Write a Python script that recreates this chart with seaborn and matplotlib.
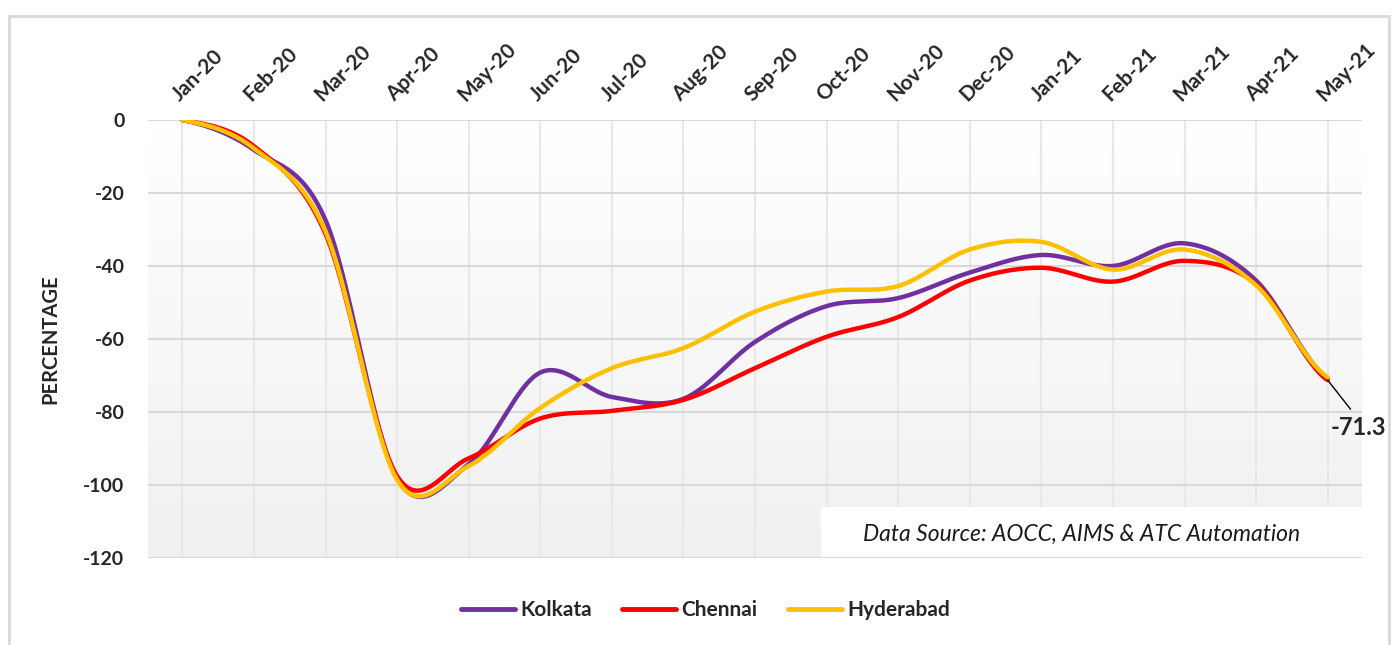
import numpy as np
import pandas as pd
import matplotlib
matplotlib.use('Agg')
import matplotlib.pyplot as plt
import matplotlib.transforms as mtransforms
import seaborn as sns
from matplotlib.colors import LinearSegmentedColormap
from matplotlib.lines import Line2D
from matplotlib.patches import Rectangle

# monthly change in traffic (%)
months = ['Jan-20', 'Feb-20', 'Mar-20', 'Apr-20', 'May-20', 'Jun-20', 'Jul-20', 'Aug-20',
          'Sep-20', 'Oct-20', 'Nov-20', 'Dec-20', 'Jan-21', 'Feb-21', 'Mar-21', 'Apr-21', 'May-21']
kolkata = [0, -8.2, -27.5, -98.3, -94.3, -69.2, -75.9, -76.4, -60.8, -51.0, -48.8, -41.8,
           -37.0, -40.0, -33.8, -44.0, -70.8]
chennai = [0, -7.2, -31.3, -97.6, -92.7, -81.8, -79.7, -76.7, -68.0, -59.4, -54.0, -44.0,
           -40.5, -44.3, -38.6, -45.0, -71.3]
hyderabad = [0, -7.8, -30.6, -98.6, -94.8, -78.9, -68.0, -62.5, -52.5, -47.0, -45.5, -35.5,
             -33.4, -41.0, -35.5, -45.3, -70.5]
cities = ['Kolkata', 'Chennai', 'Hyderabad']
colors = {'Kolkata': '#7030A0', 'Chennai': '#FF0000', 'Hyderabad': '#FFC000'}


def smooth(vals, n=40):
    # catmull-rom, like excel's "smoothed line"
    p = np.r_[vals[0], vals, vals[-1]]
    xs, ys = [], []
    t = np.linspace(0, 1, n, endpoint=False)
    for i in range(len(vals) - 1):
        p0, p1, p2, p3 = p[i], p[i + 1], p[i + 2], p[i + 3]
        m1, m2 = (p2 - p0) / 2, (p3 - p1) / 2
        h00 = 2 * t**3 - 3 * t**2 + 1
        h10 = t**3 - 2 * t**2 + t
        h01 = -2 * t**3 + 3 * t**2
        h11 = t**3 - t**2
        xs.append(i + t)
        ys.append(h00 * p1 + h10 * m1 + h01 * p2 + h11 * m2)
    xs.append([len(vals) - 1])
    ys.append([vals[-1]])
    return np.concatenate(xs), np.concatenate(ys)


rows = []
for name, vals in zip(cities, [kolkata, chennai, hyderabad]):
    sx, sy = smooth(vals)
    rows.append(pd.DataFrame({'x': sx, 'value': sy, 'city': name}))
df = pd.concat(rows, ignore_index=True)

sns.set_style('white')
plt.rcParams['font.family'] = ['Lato', 'DejaVu Sans']
plt.rcParams['axes.unicode_minus'] = False

fig = plt.figure(figsize=(13.97, 6.45), dpi=100)
ax = fig.add_axes([0.106, 0.135, 0.869, 0.679])

xmin, xmax = -0.48, 16.48
# gradient background of plot area: white at top, light grey at bottom
cmap = LinearSegmentedColormap.from_list('bg', ['#ffffff', '#f0f0f0'])
ax.imshow(np.linspace(1, 0, 256).reshape(-1, 1), cmap=cmap, aspect='auto',
          extent=[xmin, xmax, -120, 0], origin='lower', zorder=0)

sns.lineplot(data=df, x='x', y='value', hue='city', hue_order=cities, palette=colors,
             sort=False, estimator=None, linewidth=3.2, legend=False, ax=ax, zorder=3)

ax.set_xlim(xmin, xmax)
ax.set_ylim(-120, 0)
ax.set_yticks(range(-120, 1, 20))
ax.set_xticks(range(len(months)))
ax.xaxis.tick_top()
ax.set_xticklabels(months, rotation=45, ha='left', va='bottom', rotation_mode='anchor',
                   fontsize=15, fontweight='bold')
shift = mtransforms.ScaledTranslation(6 / 72, 0, fig.dpi_scale_trans)
for lab in ax.get_xticklabels():
    lab.set_transform(lab.get_transform() + shift)
for lab in ax.get_yticklabels():
    lab.set_fontsize(14)
    lab.set_fontweight('bold')
ax.tick_params(axis='both', length=0)
ax.tick_params(axis='y', pad=17)
ax.tick_params(axis='x', pad=11)
ax.set_xlabel('')
ax.set_ylabel('PERCENTAGE', fontsize=14.5, fontweight='bold')
ax.yaxis.set_label_coords(-0.072, 0.5)

ax.grid(axis='y', color='#d9d9d9', lw=1.5)
ax.grid(axis='x', color='#e8e8e8', lw=1.5)
ax.set_axisbelow(True)
for s in ax.spines.values():
    s.set_visible(False)

# data source box (covers the grid)
ax.add_patch(Rectangle((0.554, 0.0), 0.446, 0.116, transform=ax.transAxes,
                       facecolor='white', edgecolor='none', zorder=1.5))
ax.axhline(-120, color='#d9d9d9', lw=1.5, zorder=1.6)
ax.text(0.769, 0.053, 'Data Source: AOCC, AIMS & ATC Automation', transform=ax.transAxes,
        ha='center', va='center', fontsize=16.5, fontstyle='italic', color='#1a1a1a',
        zorder=4)

# end label
ax.annotate('-71.3', xy=(16, chennai[-1]), xytext=(16.43, -84.2), ha='center', va='center',
            fontsize=17, fontweight='bold', annotation_clip=False, zorder=5,
            arrowprops=dict(arrowstyle='-', color='black', lw=1, relpos=(0.45, 1.0),
                            shrinkA=3, shrinkB=0))

handles = [Line2D([], [], color=colors[c], lw=3.5) for c in cities]
fig.legend(handles, cities, loc='center', bbox_to_anchor=(0.505, 0.054), ncol=3,
           frameon=False, handlelength=2.6, handletextpad=0.25, columnspacing=1.45,
           prop={'size': 15, 'weight': 'bold'})

# outer chart border
fig.patches.append(Rectangle((0.0065, -0.02), 0.988, 0.995, transform=fig.transFigure,
                             fill=False, edgecolor='#d9d9d9', lw=2))

fig.savefig('out.png', dpi=100)
